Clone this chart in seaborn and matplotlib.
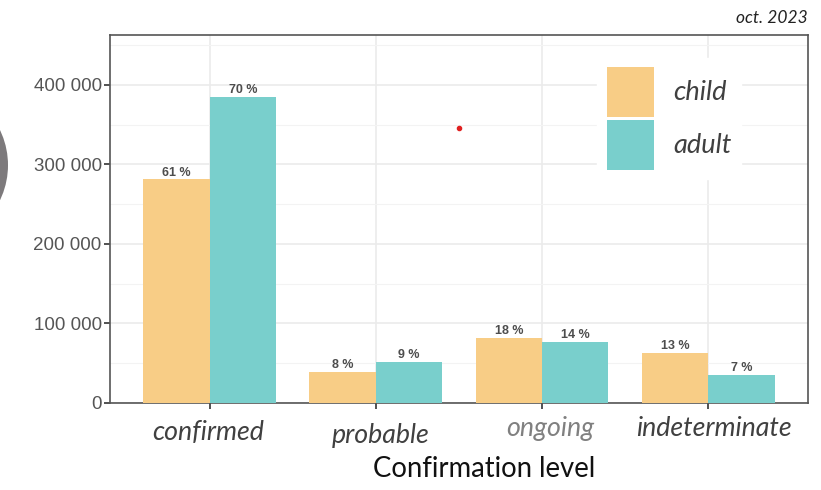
import pandas as pd
import numpy as np
import matplotlib
matplotlib.use('Agg')
import matplotlib.pyplot as plt
from matplotlib.patches import Patch, Ellipse
from matplotlib.lines import Line2D
from matplotlib.ticker import FuncFormatter, MultipleLocator
import seaborn as sns

# 데이터
levels = ['confirmed', 'probable', 'ongoing', 'indeterminate']
child = [281000, 39000, 82000, 63000]
adult = [385000, 51500, 77000, 35000]
child_pct = ['61 %', '8 %', '18 %', '13 %']
adult_pct = ['70 %', '9 %', '14 %', '7 %']

data = pd.DataFrame({
    'level': levels * 2,
    'group': ['child'] * 4 + ['adult'] * 4,
    'count': child + adult,
})

colors = {'child': '#F8CD86', 'adult': '#79CFCC'}

sns.set_style('white')
plt.rcParams['font.family'] = ['Liberation Sans', 'DejaVu Sans']

fig = plt.figure(figsize=(8.21, 4.90), dpi=100)
ax = fig.add_axes([0.134, 0.178, 0.850, 0.751])

sns.barplot(data=data, x='level', y='count', hue='group', palette=colors,
            order=levels, hue_order=['child', 'adult'], width=0.8,
            saturation=1, linewidth=0, ax=ax, legend=False, zorder=3)

# 막대 위 퍼센트
for cont, labs in zip(ax.containers, [child_pct, adult_pct]):
    ax.bar_label(cont, labels=labs, fontsize=9, color='#4d4d4d',
                 fontweight='bold', padding=0.5)

ax.set_xlim(-0.6, 3.6)
ax.set_ylim(0, 463000)
ax.yaxis.set_major_locator(MultipleLocator(100000))
ax.yaxis.set_minor_locator(MultipleLocator(50000))
ax.yaxis.set_major_formatter(FuncFormatter(lambda v, p: f'{int(v):,}'.replace(',', ' ')))
ax.grid(True, which='major', color='#ebebeb', linewidth=1.2, zorder=0)
ax.grid(True, which='minor', axis='y', color='#f3f3f3', linewidth=0.8, zorder=0)
for s in ax.spines.values():
    s.set_color('#555555')
    s.set_linewidth(1.2)

ax.tick_params(axis='y', which='major', labelsize=13.5, labelcolor='#555555',
               color='#333333', length=4, width=1.2, left=True, pad=2)
ax.tick_params(axis='y', which='minor', left=False)
ax.tick_params(axis='x', color='#333333', length=4, width=1.2, bottom=True,
               labelbottom=False)
ax.set_xlabel('')
ax.set_ylabel('')

# x 라벨 (위치가 조금씩 다름)
label_colors = ['#404040', '#404040', '#808080', '#404040']
label_dx = [-2, 5, 8, 6]
label_dy = [-30, -33, -26, -26]
for i, (lv, c, dx, dy) in enumerate(zip(levels, label_colors, label_dx, label_dy)):
    ax.annotate(lv, xy=(i, 0), xycoords=('data', 'axes fraction'),
                xytext=(dx, dy), textcoords='offset pixels', ha='center', va='center',
                fontsize=19.3, fontstyle='italic', color=c,
                family=['Lato', 'DejaVu Sans'])

fig.text(0.590, 0.043, 'Confirmation level', ha='center', va='center',
         fontsize=19.8, color='#111111', family=['Lato', 'DejaVu Sans'])

fig.text(0.984, 0.963, 'oct. 2023', ha='right', va='center', fontsize=12.5,
         fontstyle='italic', color='#222222', family=['Lato', 'DejaVu Sans'])

# 범례
handles = [Patch(facecolor=colors['child'], edgecolor='none', label='child'),
           Patch(facecolor=colors['adult'], edgecolor='none', label='adult')]
leg = ax.legend(handles=handles, loc='upper left', bbox_to_anchor=(0.698, 0.9375),
                handlelength=1.75, handleheight=2.45, labelspacing=0.1,
                handletextpad=0.7, borderpad=0.35, borderaxespad=0,
                frameon=True, fancybox=False,
                edgecolor='white', framealpha=1,
                prop={'family': ['Lato', 'DejaVu Sans'], 'style': 'italic',
                      'size': 19.5})
for t in leg.get_texts():
    t.set_color('#404040')
leg.set_zorder(5)

# 슬라이드 잔여물
fig.add_artist(Ellipse((-0.0884, 0.663), 0.1963, 0.329, transform=fig.transFigure,
                       facecolor='#7d7a7c', edgecolor='none'))
fig.add_artist(Line2D([0.559], [0.739], transform=fig.transFigure, marker='o',
                      markersize=3, color='#e02020', linestyle='none'))

fig.savefig('out.png', dpi=100)
